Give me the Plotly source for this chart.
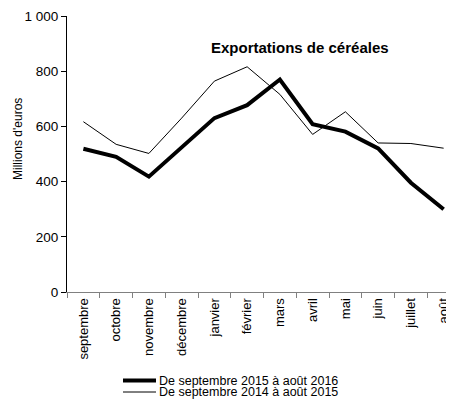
import plotly.graph_objects as go

months = ["septembre", "octobre", "novembre", "décembre", "janvier", "février",
          "mars", "avril", "mai", "juin", "juillet", "août"]
exp_2015_2016 = [519, 490, 418, 522, 630, 677, 770, 608, 581, 520, 396, 300]
exp_2014_2015 = [617, 535, 502, 630, 764, 816, 716, 571, 653, 540, 538, 521]
y_ticks = [0, 200, 400, 600, 800, 1000]
series_names = ["De septembre 2015 à août 2016", "De septembre 2014 à août 2015"]
series_widths = [4, 1]

FONT = "Liberation Sans, Arial, sans-serif"
OFF = 8                      # page body margin
W, H = 454 - OFF, 403 - OFF  # figure size so that the page fits the window
SX0, SY0, SX1, SY1 = 67, 16, 454, 292   # plot area in screen pixels
L, T = SX0 - OFF, SY0 - OFF
R, B = (W + OFF) - SX1, (H + OFF) - SY1
plot_w = SX1 - SX0
plot_h = SY1 - SY0
cat_w = 32.75


def px_x(px):
    return (px - SX0) / plot_w


def px_y(py):
    return 1 - (py - SY0) / plot_h


fig = go.Figure()
for vals, name, w in zip([exp_2015_2016, exp_2014_2015], series_names, series_widths):
    fig.add_trace(go.Scatter(x=months, y=vals, mode="lines", name=name,
                             line=dict(color="black", width=w), showlegend=False))

# manual legend (compact spacing as in the reference)
shapes = []
annotations = []
for i, (name, w) in enumerate(zip(series_names, series_widths)):
    yy = px_y(380.5 + 11.5 * i)
    shapes.append(dict(type="line", xref="paper", yref="paper",
                       x0=px_x(123), x1=px_x(156), y0=yy, y1=yy,
                       line=dict(color="black", width=w)))
    annotations.append(dict(text=name, xref="paper", yref="paper",
                            x=px_x(157), y=yy, xanchor="left", yanchor="middle",
                            showarrow=False, font=dict(size=12.5)))

annotations.append(dict(text="<b>Exportations de céréales</b>", xref="paper", yref="paper",
                        x=px_x(300), y=px_y(47), xanchor="center", yanchor="middle",
                        showarrow=False, font=dict(size=15)))
annotations.append(dict(text="Millions d'euros", xref="paper", yref="paper",
                        x=px_x(18), y=px_y(139), xanchor="center", yanchor="middle",
                        textangle=-90, showarrow=False, font=dict(size=12)))

fig.update_layout(
    width=W, height=H,
    margin=dict(l=L, r=R, t=T, b=B, pad=0, autoexpand=False),
    paper_bgcolor="white", plot_bgcolor="white",
    separators=", ",
    font=dict(family=FONT, size=13, color="black"),
    showlegend=False,
    xaxis=dict(type="category", range=[-0.5, -0.5 + plot_w / cat_w],
               showgrid=False, zeroline=False, showline=True,
               linecolor="#808080", linewidth=1,
               ticks="outside", ticklen=5, tickcolor="#808080", tickson="boundaries",
               tickangle=-90, tickfont=dict(size=13), fixedrange=True),
    yaxis=dict(range=[0, 1000], tickvals=y_ticks, tickformat=",d",
               showgrid=False, zeroline=False, showline=True,
               linecolor="black", linewidth=1,
               ticks="outside", ticklen=5, tickcolor="black",
               tickfont=dict(size=13.5), fixedrange=True),
    shapes=shapes,
    annotations=annotations,
)

fig.write_html("out.html")
